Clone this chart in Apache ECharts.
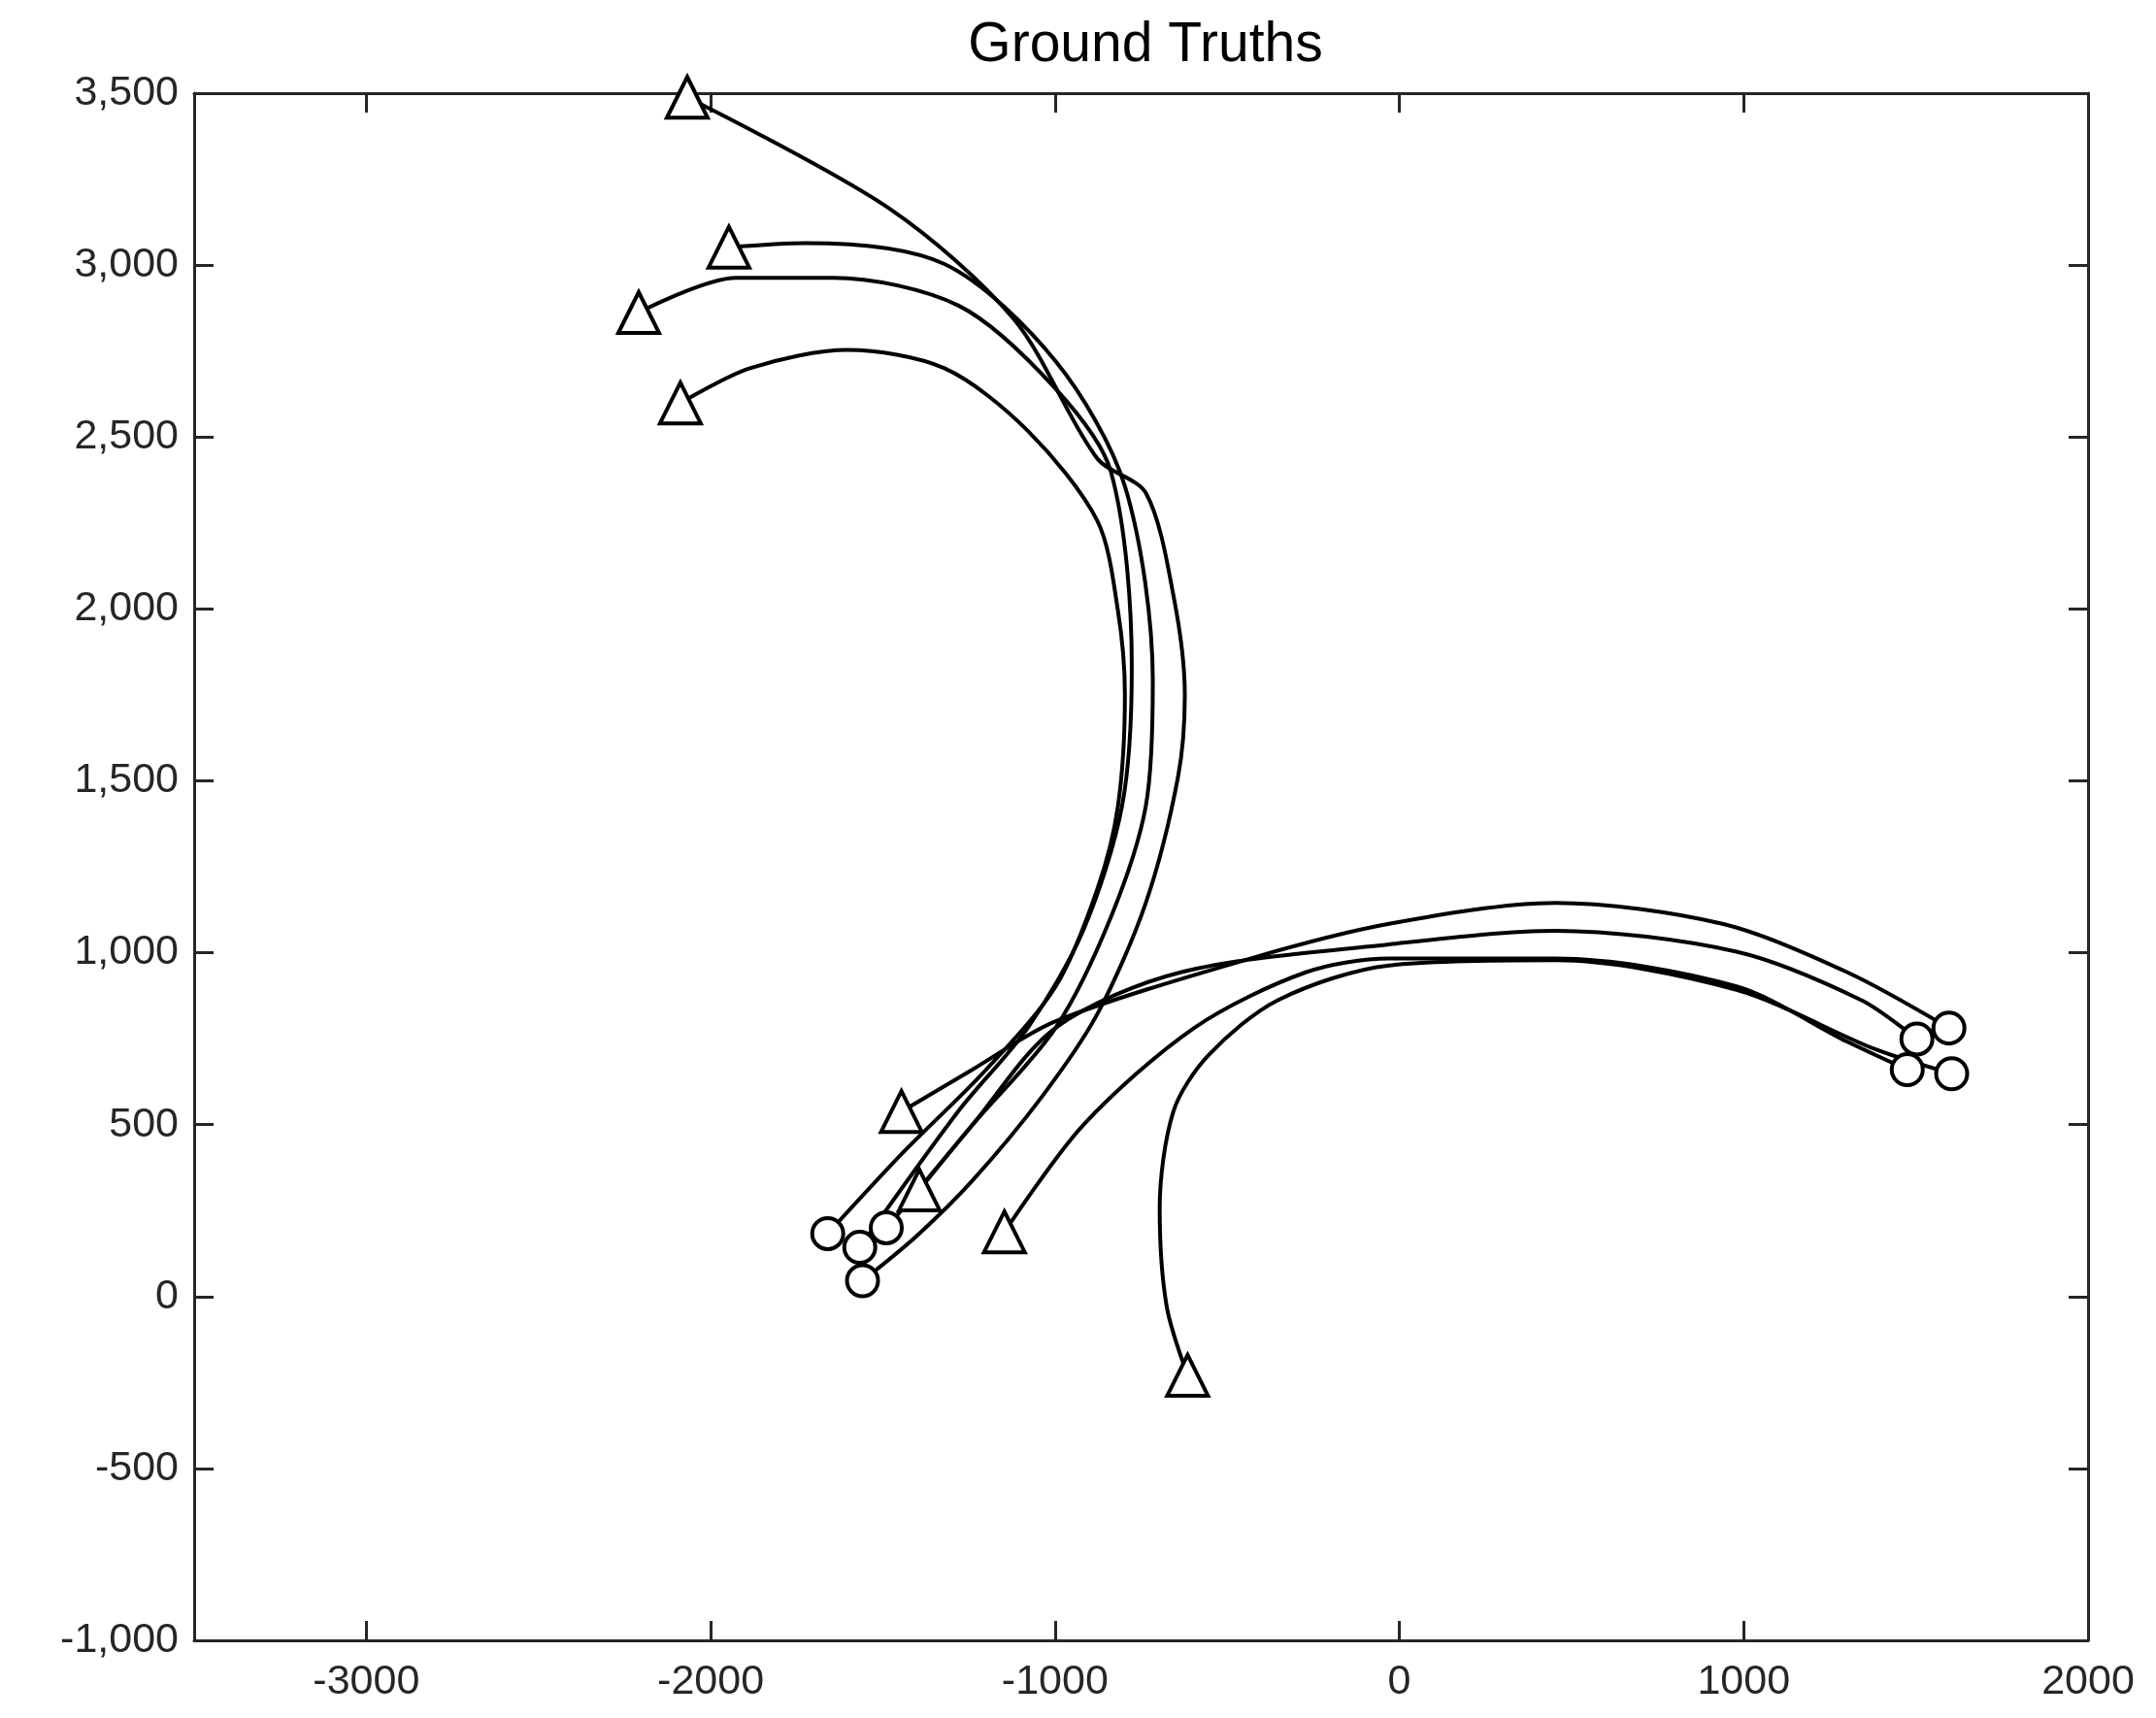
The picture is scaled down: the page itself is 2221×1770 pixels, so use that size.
<!DOCTYPE html>
<html>
<head>
<meta charset="utf-8">
<script src="https://cdn.jsdelivr.net/npm/echarts@6/dist/echarts.min.js"></script>
<style>html,body{margin:0;background:#fff}#chart{width:2221px;height:1770px}</style>
</head>
<body>
<div id="chart"></div>
<script>
const xTicks = [-3000, -2000, -1000, 0, 1000, 2000];
const yTicks = [-1000, -500, 0, 500, 1000, 1500, 2000, 2500, 3000, 3500];

// each track: start (triangle) ... end (circle)
const track1 = [[-2068, 3488], [-1482, 3165], [-1119, 2842], [-877, 2437], [-736, 2337], [-655, 2033], [-623, 1750], [-643, 1510], [-736, 1146], [-877, 822], [-1039, 580], [-1240, 337], [-1402, 176], [-1559, 46]];
const track2 = [[-1947, 3052], [-1725, 3064], [-1321, 3003], [-998, 2720], [-797, 2357], [-716, 1791], [-736, 1428], [-837, 1105], [-998, 782], [-1240, 499], [-1442, 256], [-1490, 200]];
const track3 = [[-2209, 2862], [-1926, 2963], [-1644, 2963], [-1280, 2882], [-998, 2640], [-837, 2397], [-777, 1831], [-805, 1428], [-918, 1065], [-1079, 782], [-1280, 540], [-1567, 143]];
const track4 = [[-2088, 2599], [-1886, 2700], [-1603, 2753], [-1321, 2700], [-1079, 2518], [-877, 2256], [-817, 1993], [-797, 1751], [-817, 1428], [-877, 1185], [-998, 902], [-1200, 660], [-1442, 418], [-1660, 183]];
const track5 = [[-1446, 538], [-1240, 660], [-998, 801], [-433, 983], [-30, 1084], [454, 1145], [938, 1084], [1301, 943], [1596, 781]];
const track6 = [[-1394, 310], [-1240, 499], [-998, 782], [-635, 943], [-30, 1024], [454, 1064], [979, 1003], [1342, 862], [1503, 749]];
const track7 = [[-1147, 188], [-918, 499], [-595, 782], [-272, 943], [-30, 983], [454, 983], [979, 902], [1301, 741], [1475, 660]];
const track8 = [[-615, -229], [-676, -27], [-696, 256], [-656, 539], [-555, 701], [-353, 862], [-30, 963], [454, 978], [979, 892], [1380, 720], [1604, 648]];
const tracks = [track1, track2, track3, track4, track5, track6, track7, track8];

const font = "Liberation Sans, Arial, sans-serif";
const chart = echarts.init(document.getElementById("chart"));

function makeSeries(track) {
  return {
    type: "line",
    smooth: 0.3,
    showAllSymbol: true,
    lineStyle: { color: "#000", width: 4 },
    itemStyle: { color: "#fff", borderColor: "#000", borderWidth: 4 },
    data: track.map((p, i) => ({
      value: p,
      symbol: i === 0 ? "triangle" : i === track.length - 1 ? "circle" : "none",
      symbolSize: i === 0 ? 42 : 32,
    })),
    z: 3,
  };
}

const axisBase = {
  axisLine: { onZero: false, lineStyle: { color: "#262626", width: 3 } },
  axisTick: { inside: true, length: 20, lineStyle: { color: "#262626", width: 3 } },
  splitLine: { show: false },
};

chart.setOption({
  animation: false,
  title: {
    text: "Ground Truths",
    left: 1175,
    top: 14,
    textAlign: "center",
    textStyle: { fontFamily: font, fontSize: 57, fontWeight: "normal", color: "#000" },
  },
  grid: { left: 200, right: 70, top: 96, bottom: 80 },
  xAxis: [
    { ...axisBase, type: "value", min: -3500, max: 2000, interval: 500, position: "bottom",
      axisLabel: { fontFamily: font, fontSize: 43, color: "#262626", margin: 22,
        formatter: (v) => (xTicks.includes(v) ? String(v) : "") },
      axisTick: { ...axisBase.axisTick, customValues: xTicks } },
    { ...axisBase, type: "value", min: -3500, max: 2000, position: "top",
      axisLabel: { show: false }, axisTick: { ...axisBase.axisTick, customValues: xTicks } },
  ],
  yAxis: [
    { ...axisBase, type: "value", min: -1000, max: 3500, interval: 500, position: "left",
      axisLabel: { fontFamily: font, fontSize: 43, color: "#262626", margin: 16 } },
    { ...axisBase, type: "value", min: -1000, max: 3500, interval: 500, position: "right",
      axisLabel: { show: false } },
  ],
  series: tracks.map(makeSeries),
});
</script>
</body>
</html>
